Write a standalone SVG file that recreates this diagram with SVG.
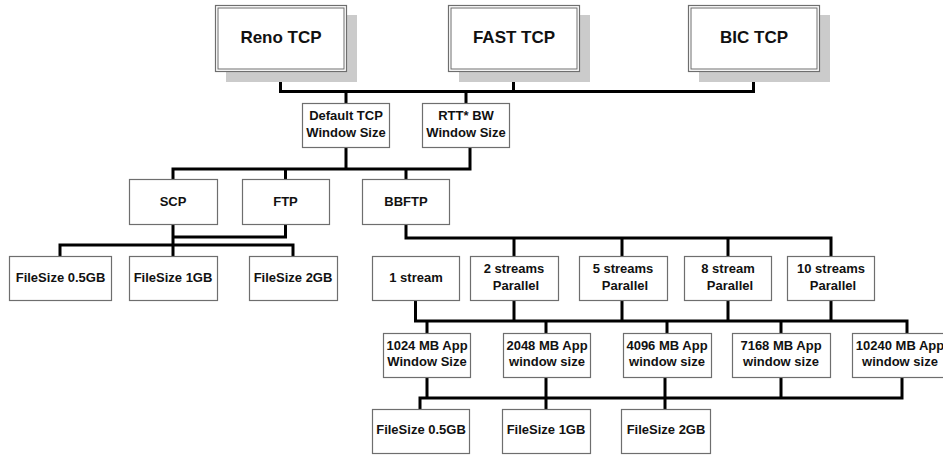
<svg xmlns="http://www.w3.org/2000/svg" width="943" height="455" viewBox="0 0 943 455">
<style>
.bg{fill:#fff}
.box{fill:#fff;stroke:#6e6e6e;stroke-width:1.2}
.inner{fill:none;stroke:#6e6e6e;stroke-width:1}
.shadow{fill:#cbcbcb}
.t{font-family:"Liberation Sans",Arial,sans-serif;font-weight:bold;font-size:13px;fill:#111;text-anchor:middle}
.big{font-size:17px}
.c{fill:none;stroke:#000;stroke-width:3;stroke-linecap:square;stroke-linejoin:miter}
</style>
<rect class="bg" x="0" y="0" width="943" height="455"/>
<g id="connectors">
<path class="c" d="M280.5 71 V91.5 H753.5 V71 M513.5 71 V91.5 M346 91.5 V103 M466 91.5 V103"/>
<path class="c" d="M346 147 V169 M470 147 V169 M173 169 H470 M173 169 V179 M285.5 169 V179 M406 169 V179"/>
<path class="c" d="M173 224 V256 M285.5 224 V237 H173 M60 256 V245 H293 V256"/>
<path class="c" d="M406 224 V238 H831 V256 M514 238 V256 M622 238 V256 M728 238 V256"/>
<path class="c" d="M415.5 300 V321 H907 V333 M514 300 V321 M622 300 V321 M728 300 V321 M831 300 V321 M427 321 V333 M546 321 V333 M667 321 V333 M781 321 V333"/>
<path class="c" d="M427 377 V398 M546 377 V409 M665 377 V409 M781 377 V398 M902 377 V398 M420 409 V398 H902"/>
</g>
<g id="reno">
<rect class="shadow" x="226" y="15" width="131" height="67"/>
<rect class="box" x="215.5" y="5.5" width="131" height="66"/>
<rect class="inner" x="218" y="8" width="126" height="61"/>
<text class="t big" x="281" y="43">Reno TCP</text>
</g>
<g id="fast">
<rect class="shadow" x="459" y="15" width="131" height="67"/>
<rect class="box" x="448.5" y="5.5" width="131" height="66"/>
<rect class="inner" x="451" y="8" width="126" height="61"/>
<text class="t big" x="514" y="43">FAST TCP</text>
</g>
<g id="bic">
<rect class="shadow" x="699" y="15" width="131" height="67"/>
<rect class="box" x="688.5" y="5.5" width="131" height="66"/>
<rect class="inner" x="691" y="8" width="126" height="61"/>
<text class="t big" x="754" y="43">BIC TCP</text>
</g>
<g id="default-tcp">
<rect class="box" x="302.5" y="103.5" width="87" height="44"/>
<text class="t" x="346" y="120">Default TCP</text>
<text class="t" x="346" y="137">Window Size</text>
</g>
<g id="rtt-bw">
<rect class="box" x="422.5" y="103.5" width="87" height="44"/>
<text class="t" x="466" y="120">RTT* BW</text>
<text class="t" x="466" y="137">Window Size</text>
</g>
<g id="scp">
<rect class="box" x="129.5" y="179.5" width="88" height="45"/>
<text class="t" x="173" y="206">SCP</text>
</g>
<g id="ftp">
<rect class="box" x="242.5" y="179.5" width="87" height="45"/>
<text class="t" x="285.5" y="206">FTP</text>
</g>
<g id="bbftp">
<rect class="box" x="362.5" y="179.5" width="87" height="45"/>
<text class="t" x="406" y="206">BBFTP</text>
</g>
<g id="fs-a-05">
<rect class="box" x="9.5" y="256.5" width="102" height="44"/>
<text class="t" x="60.5" y="282">FileSize 0.5GB</text>
</g>
<g id="fs-a-1">
<rect class="box" x="129.5" y="256.5" width="88" height="44"/>
<text class="t" x="173" y="282">FileSize 1GB</text>
</g>
<g id="fs-a-2">
<rect class="box" x="249.5" y="256.5" width="88" height="44"/>
<text class="t" x="293" y="282">FileSize 2GB</text>
</g>
<g id="s1">
<rect class="box" x="372.5" y="256.5" width="87" height="44"/>
<text class="t" x="416" y="282">1 stream</text>
</g>
<g id="s2">
<rect class="box" x="470.5" y="256.5" width="88" height="44"/>
<text class="t" x="514" y="273">2 streams</text>
<text class="t" x="516" y="290">Parallel</text>
</g>
<g id="s5">
<rect class="box" x="579.5" y="256.5" width="88" height="44"/>
<text class="t" x="623" y="273">5 streams</text>
<text class="t" x="625" y="290">Parallel</text>
</g>
<g id="s8">
<rect class="box" x="684.5" y="256.5" width="87" height="44"/>
<text class="t" x="728" y="273">8 stream</text>
<text class="t" x="730" y="290">Parallel</text>
</g>
<g id="s10">
<rect class="box" x="787.5" y="256.5" width="87" height="44"/>
<text class="t" x="831" y="273">10 streams</text>
<text class="t" x="833" y="290">Parallel</text>
</g>
<g id="a1024">
<rect class="box" x="383.5" y="333.5" width="87" height="44"/>
<text class="t" x="427" y="350">1024 MB App</text>
<text class="t" x="427" y="366">Window Size</text>
</g>
<g id="a2048">
<rect class="box" x="503.5" y="333.5" width="87" height="44"/>
<text class="t" x="547" y="350">2048 MB App</text>
<text class="t" x="547" y="366">window size</text>
</g>
<g id="a4096">
<rect class="box" x="623.5" y="333.5" width="88" height="44"/>
<text class="t" x="667" y="350">4096 MB App</text>
<text class="t" x="667" y="366">window size</text>
</g>
<g id="a7168">
<rect class="box" x="732.5" y="333.5" width="98" height="44"/>
<text class="t" x="781" y="350">7168 MB App</text>
<text class="t" x="781" y="366">window size</text>
</g>
<g id="a10240">
<rect class="box" x="852.5" y="333.5" width="98" height="44"/>
<text class="t" x="900" y="350">10240 MB App</text>
<text class="t" x="900" y="366">window size</text>
</g>
<g id="fs-b-05">
<rect class="box" x="372.5" y="409.5" width="97" height="44"/>
<text class="t" x="421" y="434">FileSize 0.5GB</text>
</g>
<g id="fs-b-1">
<rect class="box" x="502.5" y="409.5" width="88" height="44"/>
<text class="t" x="546" y="434">FileSize 1GB</text>
</g>
<g id="fs-b-2">
<rect class="box" x="621.5" y="409.5" width="89" height="44"/>
<text class="t" x="666" y="434">FileSize 2GB</text>
</g>
</svg>
